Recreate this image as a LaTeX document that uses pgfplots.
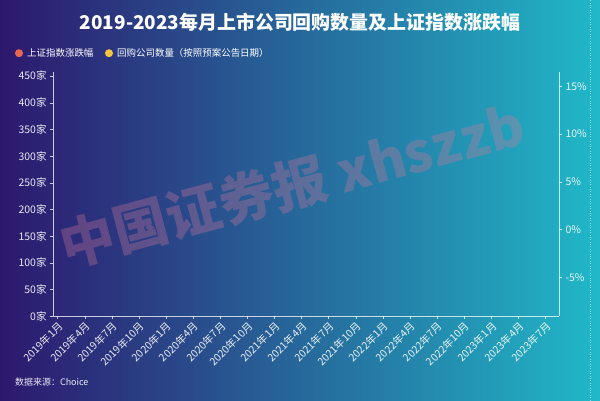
\documentclass[border=0pt]{standalone}
\usepackage{fontspec}
\setmainfont{Noto Sans CJK SC}
\usepackage{pgfplots}
\pgfplotsset{compat=1.18}
\definecolor{bgleft}{HTML}{2D186E}
\definecolor{bgmid}{HTML}{2A5A9A}
\definecolor{bgright}{HTML}{20B8C8}
\definecolor{dotred}{HTML}{E8674E}
\definecolor{dotyel}{HTML}{F5C542}
\definecolor{wm}{HTML}{D0789A}
\begin{document}
\begin{tikzpicture}
% background
\shade[left color=bgleft, middle color=bgmid, right color=bgright] (0,0) rectangle (600bp,-400bp);
\draw[white, opacity=0.5, dotted] (590bp,0) -- (590bp,-400bp);
% watermark
\node[font=\bfseries\fontsize{55}{60}\selectfont, text=wm, opacity=0.33, rotate=15]
  at (292bp,-185bp) {中国证券报 xhszzb};
% title and legend
\node[font=\bfseries\fontsize{19}{21}\selectfont, text=white] at (300bp,-22bp)
  {2019-2023每月上市公司回购数量及上证指数涨跌幅};
\fill[dotred] (19bp,-53bp) circle (4bp);
\node[anchor=west, font=\fontsize{9.5}{11}\selectfont, text=white, inner sep=0pt] at (27bp,-53bp) {上证指数涨跌幅};
\fill[dotyel] (109bp,-53bp) circle (4bp);
\node[anchor=west, font=\fontsize{9.5}{11}\selectfont, text=white, inner sep=0pt] at (117bp,-53bp) {回购公司数量（按照预案公告日期）};
\node[anchor=west, font=\fontsize{9}{10}\selectfont, text=white, opacity=0.9, inner sep=0pt] at (15bp,-382bp) {数据来源：Choice};

\pgfplotsset{
  common/.style={
    at={(53bp,-316bp)}, anchor=south west,
    scale only axis, width=506bp, height=244bp,
    xmin=-0.5, xmax=55.5,
    axis line style={white, opacity=0.75},
    tick style={white, opacity=0.75},
    tick align=outside, major tick length=3bp,
    /pgf/number format/assume math mode=true,
    ticklabel style={font=\fontsize{10.5}{12}\selectfont, text=white, opacity=0.9},
  }
}
\begin{axis}[common,
  axis x line*=bottom, axis y line*=left,
  ymin=0, ymax=457,
  ytick={0,50,...,450},
  yticklabel={\pgfmathprintnumber{\tick}家},
  xtick={0,3,...,54},
  xticklabels={2019年1月,2019年4月,2019年7月,2019年10月,2020年1月,2020年4月,2020年7月,2020年10月,2021年1月,2021年4月,2021年7月,2021年10月,2022年1月,2022年4月,2022年7月,2022年10月,2023年1月,2023年4月,2023年7月},
  x tick label style={rotate=45, anchor=north east, inner sep=1bp},
]
\end{axis}
\begin{axis}[common,
  axis x line=none, axis y line*=right,
  ymin=-9.08, ymax=16.47,
  ytick={-5,0,5,10,15},
  yticklabel={\pgfmathprintnumber{\tick}\%},
]
\end{axis}
\end{tikzpicture}
\end{document}
